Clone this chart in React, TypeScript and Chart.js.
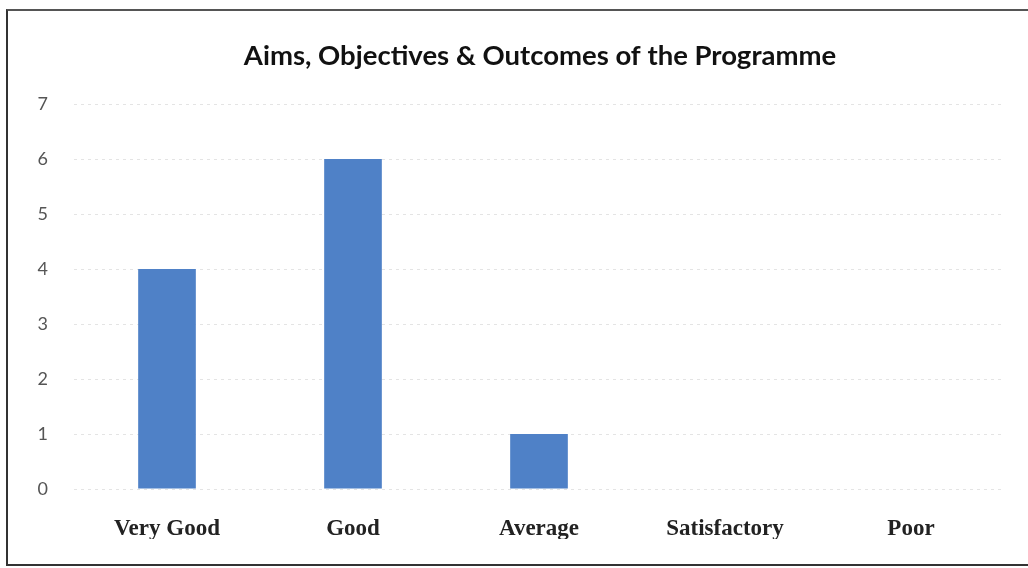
import React, { useEffect, useRef } from "react";
import { Chart, registerables } from "chart.js";

Chart.register(...registerables);

const categories = ["Very Good", "Good", "Average", "Satisfactory", "Poor"];
const values = [4, 6, 1, 0, 0];
const yTicks = [0, 1, 2, 3, 4, 5, 6, 7];
const title = "Aims, Objectives & Outcomes of the Programme";

const titlePlugin = {
  id: "offsetTitle",
  afterDraw(chart: any) {
    const ctx = chart.ctx;
    ctx.save();
    ctx.font = "bold 27.5px Lato, 'Open Sans', sans-serif";
    ctx.fillStyle = "#111";
    ctx.textAlign = "center";
    ctx.textBaseline = "middle";
    ctx.fillText(title, 540, 56);
    ctx.restore();
  },
};

export default function App() {
  const ref = useRef<HTMLCanvasElement | null>(null);

  useEffect(() => {
    if (!ref.current) return;
    const chart = new Chart(ref.current, {
      type: "bar",
      data: {
        labels: categories,
        datasets: [
          {
            data: values,
            backgroundColor: "#4f81c7",
            barPercentage: 0.62,
            categoryPercentage: 0.5,
          },
        ],
      },
      options: {
        animation: false,
        responsive: false,
        maintainAspectRatio: false,
        layout: { padding: { left: 28, right: 24, top: 104, bottom: 29 } },
        plugins: {
          legend: { display: false },
          tooltip: { enabled: false },
          title: { display: false },
        },
        scales: {
          x: {
            afterFit: (s: any) => {
              s.height = 50;
            },
            grid: { display: false, drawTicks: false },
            border: { display: false },
            ticks: {
              color: "#222",
              padding: 26,
              font: { family: "'Liberation Serif', 'Times New Roman', serif", size: 23, weight: "bold" },
            },
          },
          y: {
            min: 0,
            max: 7,
            afterFit: (s: any) => {
              s.width = 46;
            },
            afterBuildTicks: (s: any) => {
              s.ticks = yTicks.map((v) => ({ value: v }));
            },
            grid: {
              color: "#e4e4e4",
              drawTicks: false,
              lineWidth: 1,
            },
            border: { display: false, dash: [3, 4] },
            ticks: {
              color: "#555",
              padding: 26,
              stepSize: 1,
              font: { family: "Lato, 'Open Sans', sans-serif", size: 18 },
            },
          },
        },
      },
      plugins: [titlePlugin],
    });
    return () => chart.destroy();
  }, []);

  return (
    <div style={{ position: "fixed", left: 0, top: 0, width: 1028, height: 568, background: "#fff" }}>
      <div
        style={{
          position: "absolute",
          left: 6,
          top: 9,
          width: 1030,
          height: 553,
          borderLeft: "2px solid #333",
          borderTop: "2px solid #555",
          borderBottom: "2px solid #333",
        }}
      />
      <canvas ref={ref} width={1028} height={568} style={{ position: "absolute", left: 0, top: 0 }} />
    </div>
  );
}
